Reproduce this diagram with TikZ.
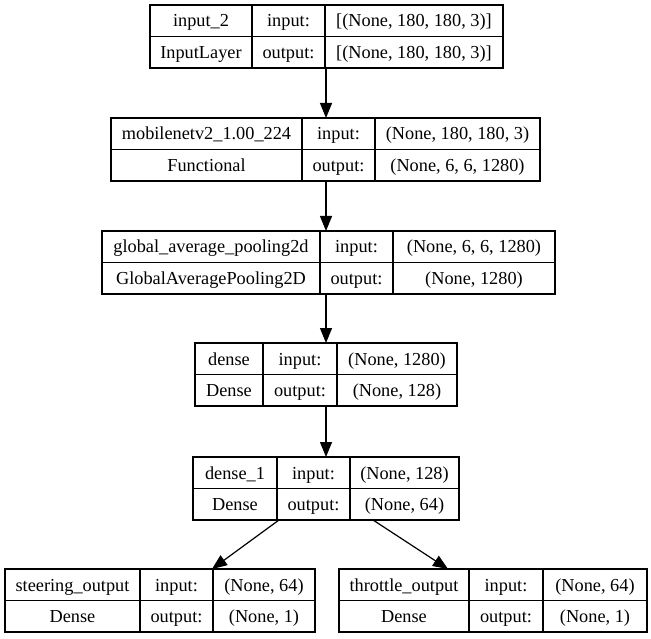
\documentclass[tikz,border=0pt]{standalone}
\usepackage{fontspec}
\setmainfont{Liberation Serif}
\usetikzlibrary{arrows.meta}
\tikzset{
  box/.style={draw=black, line width=1.2pt, inner sep=0pt, outer sep=0pt, minimum height=63pt},
  grid/.style={draw=black, line width=1.2pt},
  txt/.style={inner sep=0pt, text height=12.5pt, text depth=0pt, font=\fontsize{18.3}{22}\selectfont},
  arr/.style={draw=black, line width=1.2pt, -{Triangle[length=15pt, width=12pt]}}
}
% One Keras layer box: name, x0, x1, x2, x3, layer name, class, input shape, output shape.
% The top edge is taken from \ytop.
\newcommand\layer[9]{%
  \node[box, minimum width={(#5-#2)*1pt}] (#1) at ({(#2+#5)/2},{\ytop+31.5}) {};
  \draw[grid] ({#3},{\ytop}) -- ({#3},{\ytop+63})
              ({#4},{\ytop}) -- ({#4},{\ytop+63})
              ({#2},{\ytop+31.5}) -- ({#5},{\ytop+31.5});
  \node[txt] (#1-name)  at ({(#2+#3)/2},{\ytop+15.75}) {#6};
  \node[txt] (#1-class) at ({(#2+#3)/2},{\ytop+47.25}) {#7};
  \node[txt] (#1-inl)   at ({(#3+#4)/2},{\ytop+15.75}) {input:};
  \node[txt] (#1-outl)  at ({(#3+#4)/2},{\ytop+47.25}) {output:};
  \node[txt] (#1-in)    at ({(#4+#5)/2},{\ytop+15.75}) {#8};
  \node[txt] (#1-out)   at ({(#4+#5)/2},{\ytop+47.25}) {#9};
}
\begin{document}
\begin{tikzpicture}[x=1pt, y=-1pt]
  \useasboundingbox[fill=white] (0,0) rectangle (651,639);
  \coordinate (axis) at (326,0);

  \def\ytop{5}
  \layer{in2}{150}{252}{325}{503}{input\_2}{InputLayer}{[(None, 180, 180, 3)]}{[(None, 180, 180, 3)]}
  \def\ytop{118}
  \layer{mob}{111}{302}{375}{540}{mobilenetv2\_1.00\_224}{Functional}{(None, 180, 180, 3)}{(None, 6, 6, 1280)}
  \def\ytop{231}
  \layer{gap}{102}{320}{393}{555}{global\_average\_pooling2d}{GlobalAveragePooling2D}{(None, 6, 6, 1280)}{(None, 1280)}
  \def\ytop{343}
  \layer{dense}{195}{263}{337}{457}{dense}{Dense}{(None, 1280)}{(None, 128)}
  \def\ytop{457}
  \layer{dense1}{193}{277}{350}{459}{dense\_1}{Dense}{(None, 128)}{(None, 64)}
  \def\ytop{569}
  \layer{steer}{5}{140}{213}{315}{steering\_output}{Dense}{(None, 64)}{(None, 1)}
  \layer{thr}{339}{469}{543}{647}{throttle\_output}{Dense}{(None, 64)}{(None, 1)}

  % connections
  \draw[arr] (in2.south -| axis) -- (mob.north -| axis);
  \draw[arr] (mob.south -| axis) -- (gap.north -| axis);
  \draw[arr] (gap.south -| axis) -- (dense.north -| axis);
  \draw[arr] (dense.south -| axis) -- (dense1.north -| axis);
  \draw[arr] ([xshift=-47pt]dense1.south) -- ([xshift=52pt]steer.north);
  \draw[arr] ([xshift=47pt]dense1.south) -- ([xshift=-45pt]thr.north);
\end{tikzpicture}
\end{document}
